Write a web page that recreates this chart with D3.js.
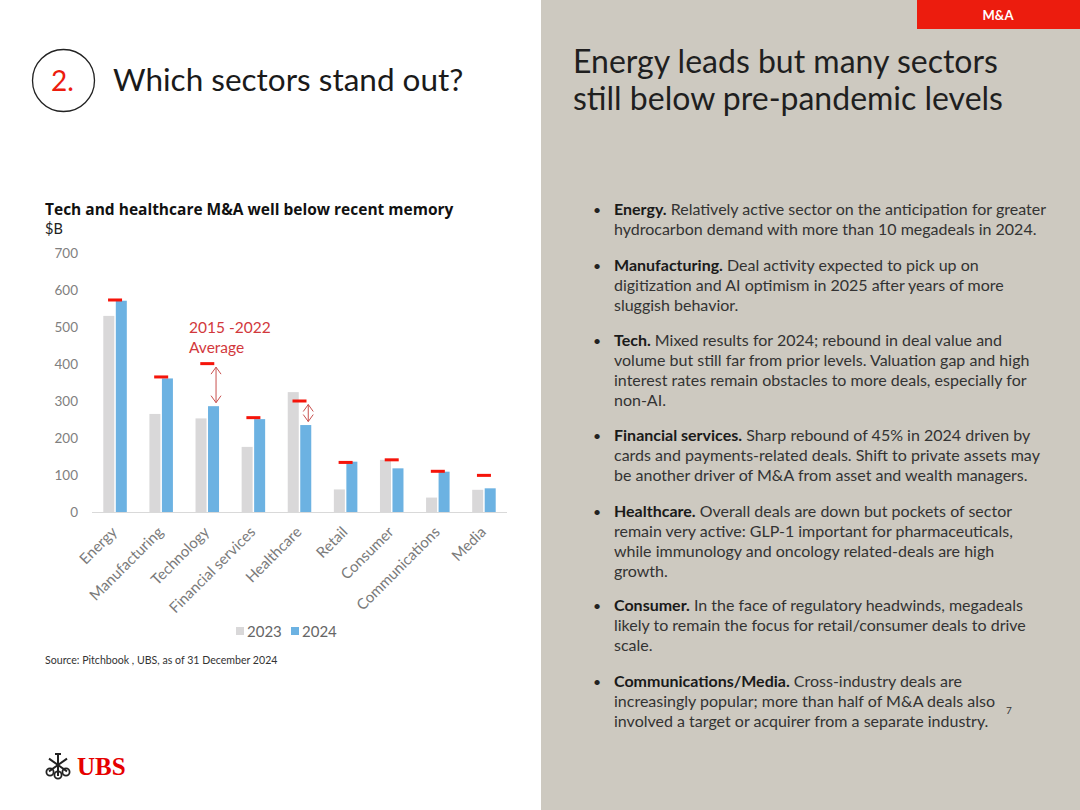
<!DOCTYPE html>
<html>
<head>
<meta charset="utf-8">
<script src="https://cdn.jsdelivr.net/npm/d3@7"></script>
<style>
  html, body { margin: 0; padding: 0; background: #fff; }
  svg { display: block; font-family: Lato, "Open Sans", sans-serif; }
</style>
</head>
<body>
<svg id="page" width="1080" height="810"></svg>
<script>
// ---------- data ----------
const categories = ["Energy", "Manufacturing", "Technology", "Financial services", "Healthcare", "Retail", "Consumer", "Communications", "Media"];
const series = ["2023", "2024"];
const values2023 = [530, 265, 253, 176, 324, 61, 141, 39, 60];
const values2024 = [571, 361, 286, 251, 235, 136, 118, 109, 64];
const average2015_2022 = [573, 365, 401, 255, 300, 134, 141, 110, 99];
const arrowCategories = ["Technology", "Healthcare"];
const yTicks = [0, 100, 200, 300, 400, 500, 600, 700];

const bullets = [
  { head: "Energy.", lines: [" Relatively active sector on the anticipation for greater", "hydrocarbon demand with more than 10 megadeals in 2024."] },
  { head: "Manufacturing.", lines: [" Deal activity expected to pick up on", "digitization and AI optimism in 2025 after years of more", "sluggish behavior."] },
  { head: "Tech.", lines: [" Mixed results for 2024; rebound in deal value and", "volume but still far from prior levels. Valuation gap and high", "interest rates remain obstacles to more deals, especially for", "non-AI."] },
  { head: "Financial services.", lines: [" Sharp rebound of 45% in 2024 driven by", "cards and payments-related deals. Shift to private assets may", "be another driver of M&A from asset and wealth managers."] },
  { head: "Healthcare.", lines: [" Overall deals are down but pockets of sector", "remain very active: GLP-1 important for pharmaceuticals,", "while immunology and oncology related-deals are high", "growth."] },
  { head: "Consumer.", lines: [" In the face of regulatory headwinds, megadeals", "likely to remain the focus for retail/consumer deals to drive", "scale."] },
  { head: "Communications/Media.", lines: [" Cross-industry deals are", "increasingly popular; more than half of M&A deals also", "involved a target or acquirer from a separate industry."] }
];
const bulletTops = [215, 271, 346, 441, 517, 611, 687];

// ---------- page ----------
const svg = d3.select("#page");
const RED = "#ec1c0e";
const FONT = "Lato, 'Open Sans', sans-serif";

// right panel
svg.append("rect").attr("x", 541).attr("y", 0).attr("width", 539).attr("height", 810).attr("fill", "#cdc9c0");
svg.append("rect").attr("x", 917).attr("y", 0).attr("width", 163).attr("height", 29).attr("fill", RED);
svg.append("text").attr("x", 998).attr("y", 20).attr("text-anchor", "middle").attr("fill", "#fff")
  .attr("font-size", 13).attr("font-weight", 700).text("M&A");

// left header
svg.append("circle").attr("cx", 63.5).attr("cy", 80.5).attr("r", 31).attr("fill", "none").attr("stroke", "#222").attr("stroke-width", 1.3);
svg.append("text").attr("x", 51).attr("y", 91).attr("fill", RED).attr("font-size", 28).text("2.");
svg.append("text").attr("x", 113).attr("y", 91).attr("fill", "#1a1a1a").attr("font-size", 31.5).text("Which sectors stand out?");

// right title
const rt = svg.append("text").attr("fill", "#1f1f1f").attr("font-size", 32);
rt.append("tspan").attr("x", 573).attr("y", 73).text("Energy leads but many sectors");
rt.append("tspan").attr("x", 573).attr("y", 110).text("still below pre-pandemic levels");

// bullets
bullets.forEach((b, i) => {
  const y0 = bulletTops[i];
  svg.append("text").attr("x", 593).attr("y", y0).attr("font-size", 14).attr("fill", "#222").text("•");
  const t = svg.append("text").attr("font-size", 16).attr("fill", "#333");
  const first = t.append("tspan").attr("x", 614).attr("y", y0);
  first.append("tspan").attr("font-weight", 700).attr("fill", "#1a1a1a").text(b.head);
  first.append("tspan").text(b.lines[0]);
  b.lines.slice(1).forEach((l, j) => {
    t.append("tspan").attr("x", 614).attr("y", y0 + 20 * (j + 1)).text(l);
  });
});
svg.append("text").attr("x", 1006).attr("y", 714).attr("font-size", 10).attr("fill", "#333").text("7");

// ---------- chart ----------
svg.append("text").attr("x", 45).attr("y", 215).style("font-family", "'Open Sans', sans-serif")
  .attr("font-size", 15.5).attr("font-weight", 700).attr("fill", "#111")
  .text("Tech and healthcare M&A well below recent memory");
svg.append("text").attr("x", 45).attr("y", 234).attr("font-size", 14.5).attr("fill", "#222").text("$B");

const y = d3.scaleLinear().domain([0, 700]).range([512, 253]);
const x0 = d3.scaleBand().domain(categories).range([92, 507]).paddingInner(0.49).paddingOuter(0.245);
const x1 = d3.scaleBand().domain(series).range([0, x0.bandwidth()]).paddingInner(0.12);
const colors = { "2023": "#d9d8d9", "2024": "#6cb2e2" };
const seriesValues = { "2023": values2023, "2024": values2024 };

// y axis
const yAxis = svg.append("g").attr("transform", "translate(80,0)")
  .call(d3.axisLeft(y).tickValues(yTicks).tickSize(0).tickPadding(2));
yAxis.select(".domain").remove();
yAxis.selectAll("text").attr("font-size", 13.5).attr("fill", "#808080").style("font-family", FONT);

// x axis
const xAxis = svg.append("g").attr("transform", "translate(0,512)")
  .call(d3.axisBottom(x0).tickSize(0).tickPadding(0));
xAxis.select(".domain").attr("stroke", "#d9d9d9").attr("stroke-width", 1.2).attr("d", "M92,0.5H507");
xAxis.selectAll(".tick text")
  .attr("font-size", 15).attr("fill", "#7a7a7a").style("font-family", FONT)
  .attr("text-anchor", "end").attr("dy", 0)
  .attr("transform", "translate(3,21) rotate(-45)");

// bars
const groups = svg.append("g").selectAll("g").data(categories).join("g")
  .attr("transform", d => `translate(${x0(d)},0)`);
groups.selectAll("rect").data((d, i) => series.map(s => ({ s, v: seriesValues[s][i] }))).join("rect")
  .attr("x", d => x1(d.s)).attr("width", x1.bandwidth())
  .attr("y", d => y(d.v)).attr("height", d => y(0) - y(d.v))
  .attr("fill", d => colors[d.s]);

// average markers
svg.append("g").selectAll("rect").data(categories).join("rect")
  .attr("x", d => x0(d) + x0.bandwidth() / 2 - 7)
  .attr("y", (d, i) => y(average2015_2022[i]) - 1.5)
  .attr("width", 14).attr("height", 3).attr("fill", "#f5140a");

// arrows
const ARC = "#c8504e";
arrowCategories.forEach(c => {
  const i = categories.indexOf(c);
  const ax = x0(c) + x1("2024") + x1.bandwidth() / 2 + 2.5;
  const ya = y(average2015_2022[i]), yb = y(values2024[i]);
  const top = Math.min(ya, yb) + 3.5, bot = Math.max(ya, yb) - 3.5;
  const g = svg.append("g").attr("stroke", ARC).attr("stroke-width", 1).attr("fill", "none");
  g.append("line").attr("x1", ax).attr("x2", ax).attr("y1", top).attr("y2", bot);
  g.append("path").attr("d", `M${ax - 5},${top + 7}L${ax},${top}L${ax + 5},${top + 7}`);
  g.append("path").attr("d", `M${ax - 5},${bot - 7}L${ax},${bot}L${ax + 5},${bot - 7}`);
});
const ann = svg.append("text").attr("fill", "#d2383c").attr("font-size", 15.5);
ann.append("tspan").attr("x", 189).attr("y", 333).text("2015 -2022");
ann.append("tspan").attr("x", 189).attr("y", 353).text("Average");

// legend
const leg = svg.append("g").attr("transform", "translate(236,631)");
series.forEach((s, i) => {
  const lx = i * 55;
  leg.append("rect").attr("x", lx).attr("y", -4).attr("width", 8).attr("height", 8).attr("fill", colors[s]);
  leg.append("text").attr("x", lx + 11).attr("y", 5.5).attr("font-size", 15).attr("fill", "#666").text(s);
});

// source
svg.append("text").attr("x", 45).attr("y", 664).attr("font-size", 10.6).attr("fill", "#333")
  .text("Source: Pitchbook , UBS, as of 31 December 2024");

// ---------- UBS logo ----------
const logo = svg.append("g").attr("transform", "translate(58,765)").attr("fill", "#222").attr("stroke", "#222");
[-90, -35, 35, 90, 145, 215].forEach(a => {
  const r = a * Math.PI / 180;
  logo.append("line").attr("x1", 0).attr("y1", 0).attr("x2", 11 * Math.cos(r)).attr("y2", 11 * Math.sin(r)).attr("stroke-width", 2);
});
[[-8, 7], [0, 10], [8, 7]].forEach(p => {
  logo.append("circle").attr("cx", p[0]).attr("cy", p[1]).attr("r", 3.6).attr("fill", "none").attr("stroke-width", 1.8);
});
logo.append("line").attr("x1", -3).attr("y1", -11).attr("x2", 3).attr("y2", -11).attr("stroke-width", 2);
svg.append("text").attr("x", 77).attr("y", 775).style("font-family", "'Liberation Serif', 'DejaVu Serif', serif")
  .attr("font-weight", 700).attr("font-size", 25).attr("fill", "#e60000").text("UBS");
</script>
</body>
</html>
